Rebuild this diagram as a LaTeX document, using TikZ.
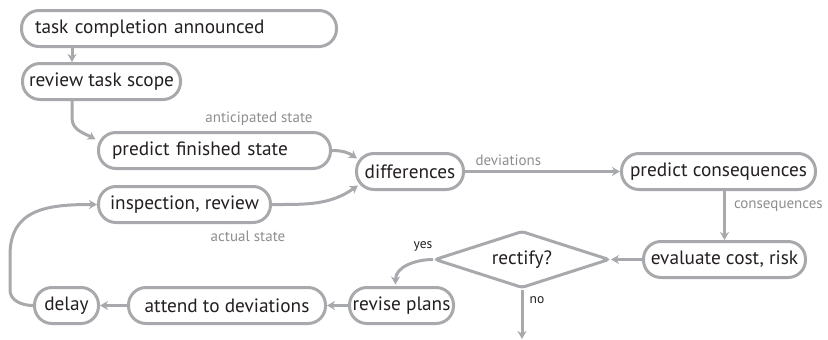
\documentclass[tikz,border=0pt]{standalone}
\usepackage{fontspec}
\setmainfont{PT Sans}
\usetikzlibrary{arrows.meta,shapes.geometric,calc}
\definecolor{boxgray}{HTML}{A8A9AC}
\definecolor{labelgray}{HTML}{8D8E90}
\definecolor{ink}{HTML}{231F20}

\begin{document}
\begin{tikzpicture}[x=1pt,y=1pt,
  box/.style={draw=boxgray, line width=3pt, rounded corners=17.5pt,
    minimum height=36pt, inner sep=0pt, text=ink,
    font=\fontsize{19.3}{22}\selectfont},
  decision/.style={draw=boxgray, line width=3pt, diamond, aspect=3,
    inner sep=0pt, rounded corners=3pt, text=ink,
    font=\fontsize{19.3}{22}\selectfont},
  conn/.style={draw=boxgray, line width=3pt,
    -{Stealth[length=8pt,width=9pt,inset=2.5pt]}},
  lbl/.style={text=labelgray, font=\fontsize{15}{17}\selectfont, inner sep=0pt},
  ans/.style={text=ink, font=\fontsize{13.5}{16}\selectfont, inner sep=0pt}]
\useasboundingbox (0,0) rectangle (828,-340);

% process steps
\node[box, minimum width=315pt, text width=288pt, align=left, inner xsep=13.5pt]
  (task) at (179,-28.5) {task completion announced};
\node[box, minimum width=158pt] (review) at (101.5,-81.5) {review task scope};
\node[box, minimum width=232pt, text width=205pt, align=left, inner xsep=13.5pt]
  (predict) at (214.5,-150.5) {predict finished state};
\node[box, minimum width=172pt] (insp) at (184.5,-204.5) {inspection, review};
\node[box, minimum width=107pt] (diff) at (410,-171.5) {differences};
\node[box, minimum width=194pt] (cons) at (718.5,-171.5) {predict consequences};
\node[box, minimum width=162pt] (eval) at (724.5,-259.5) {evaluate cost, risk};
\node[decision, minimum width=175pt, minimum height=57pt] (rect) at (522,-259.5) {rectify?};
\node[box, minimum width=104pt] (revise) at (401.5,-305.5) {revise plans};
\node[box, minimum width=197pt] (attend) at (227,-305.5) {attend to deviations};
\node[box, minimum width=64pt] (delay) at (66.5,-305.5) {delay};

% connector labels
\node[lbl] (antlbl) at (259,-119) {anticipated state};
\node[lbl] (actlbl) at (248,-236) {actual state};
\node[ans] (yeslbl) at (423,-246) {yes};

% helper points
\coordinate (xa) at (72,0);
\coordinate (loopA) at (10,-290);
\coordinate (loopB) at (10,-255);
\coordinate (exit) at (522,-339);

% connectors
\draw[conn] (xa |- task.south) -- (xa |- review.north);
\draw[conn] (xa |- review.south) -- ++(0,-17)
  to[out=-90,in=150] ($(predict.west)+(-1.5,11)$);
\draw[conn] (predict.east) to[out=0,in=145] ($(diff.west)+(2,13)$);
\draw[conn] (insp.east) to[out=0,in=-145] ($(diff.west)+(3,-14)$);
\draw[conn] (diff.east) -- (cons.west)
  node[lbl, at start, anchor=base west, xshift=9pt, yshift=6pt] {deviations};
\draw[conn] (eval.north |- cons.south) -- (eval.north)
  node[lbl, pos=0.5, anchor=base west, xshift=8pt, yshift=7pt] {consequences};
\draw[conn] (eval.west) -- (rect.east);
\draw[conn] (rect.west) to[out=180,in=90] ($(revise.north)+(-6,1.5)$);
\draw[conn] (rect.south) -- (exit)
  node[ans, at start, xshift=15pt, yshift=-11pt] {no};
\draw[conn] (revise.west) -- (attend.east);
\draw[conn] (attend.west) -- (delay.east);
\draw[conn] (delay.west) to[out=180,in=-90] (loopA) -- (loopB)
  to[out=90,in=180,looseness=1.2] (insp.west);
\end{tikzpicture}
\end{document}
